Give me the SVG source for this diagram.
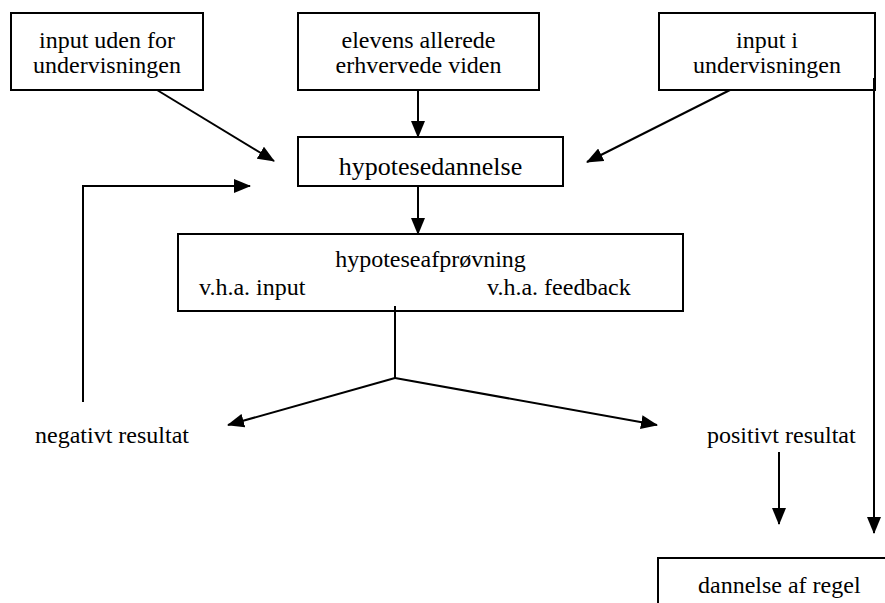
<svg xmlns="http://www.w3.org/2000/svg" width="885" height="603" viewBox="0 0 885 603">
  <defs>
    <style>
      .box { fill: #ffffff; stroke: #000000; stroke-width: 2; }
      .txt { font-family: "Liberation Serif", "Times New Roman", serif; font-size: 24px; fill: #000000; }
      .mid { text-anchor: middle; }
      .big { font-size: 26px; }
      .line { fill: none; stroke: #000000; stroke-width: 2; }
      .arrow { fill: none; stroke: #000000; stroke-width: 2; marker-end: url(#head); }
    </style>
    <marker id="head" markerUnits="userSpaceOnUse" markerWidth="17" markerHeight="14" refX="16" refY="7" orient="auto">
      <path d="M0,0 L17,7 L0,14 z" fill="#000000"/>
    </marker>
  </defs>
  <rect width="885" height="603" fill="#ffffff"/>

  <g id="input-uden-for">
    <rect class="box" x="11" y="13" width="192" height="77"/>
    <text class="txt mid" x="107" y="48">input uden for</text>
    <text class="txt mid" x="107" y="73">undervisningen</text>
  </g>

  <g id="elevens-viden">
    <rect class="box" x="298" y="13" width="241" height="77"/>
    <text class="txt mid" x="418.5" y="48">elevens allerede</text>
    <text class="txt mid" x="418.5" y="73">erhvervede viden</text>
  </g>

  <g id="input-i">
    <rect class="box" x="659" y="13" width="216" height="77"/>
    <text class="txt mid" x="767" y="48">input i</text>
    <text class="txt mid" x="767" y="73">undervisningen</text>
  </g>

  <g id="hypotesedannelse">
    <rect class="box" x="298" y="137" width="265" height="49"/>
    <text class="txt big mid" x="430.5" y="175">hypotesedannelse</text>
  </g>

  <g id="hypoteseafproevning">
    <rect class="box" x="178" y="234" width="505" height="77"/>
    <text class="txt mid" x="430.5" y="267">hypoteseafprøvning</text>
    <text class="txt" x="199" y="295">v.h.a. input</text>
    <text class="txt" x="487" y="295">v.h.a. feedback</text>
  </g>

  <g id="negativt-resultat">
    <text class="txt" x="35" y="443">negativt resultat</text>
  </g>

  <g id="positivt-resultat">
    <text class="txt" x="707" y="443">positivt resultat</text>
  </g>

  <g id="dannelse-af-regel">
    <rect class="box" x="658" y="558" width="240" height="60"/>
    <text class="txt" x="698" y="593">dannelse af regel</text>
  </g>

  <g id="connectors">
    <line class="arrow" x1="157" y1="90" x2="274" y2="161"/>
    <line class="arrow" x1="418" y1="90" x2="418" y2="137"/>
    <line class="arrow" x1="730" y1="90" x2="587" y2="162"/>
    <polyline class="arrow" points="83,402 83,186 250,186"/>
    <line class="arrow" x1="418" y1="186" x2="418" y2="234"/>
    <polyline class="line" points="395,306 395,378"/>
    <line class="arrow" x1="395" y1="378" x2="228" y2="425"/>
    <line class="arrow" x1="395" y1="378" x2="657" y2="425"/>
    <line class="arrow" x1="779" y1="452" x2="779" y2="524"/>
    <line class="arrow" x1="874" y1="78" x2="874" y2="533"/>
  </g>
</svg>
